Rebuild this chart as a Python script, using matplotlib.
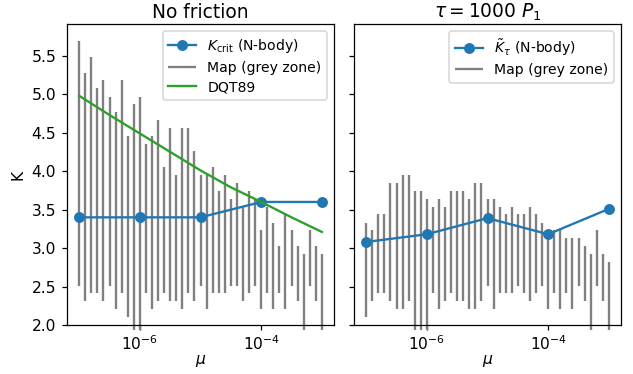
import numpy as np
import matplotlib
matplotlib.use("Agg")
from matplotlib import pyplot as plt

# mass ratios of the N-body runs
mu_nbody = [1e-7, 1e-6, 1e-5, 1e-4, 1e-3]
k_crit = [3.40, 3.40, 3.40, 3.60, 3.60]
k_tau = [3.08, 3.18, 3.39, 3.18, 3.51]

# DQT89 curve
mu_dqt = [1e-7, 10**-6.5, 1e-6, 10**-5.5, 1e-5, 10**-4.5, 1e-4, 10**-3.5, 1e-3]
k_dqt = [4.98, 4.73, 4.49, 4.25, 4.01, 3.79, 3.60, 3.40, 3.21]

# map grid (log10 mu from -7 to -3, step 0.1)
log_mu_map = [-7.0, -6.9, -6.8, -6.7, -6.6, -6.5, -6.4, -6.3, -6.2, -6.1,
              -6.0, -5.9, -5.8, -5.7, -5.6, -5.5, -5.4, -5.3, -5.2, -5.1,
              -5.0, -4.9, -4.8, -4.7, -4.6, -4.5, -4.4, -4.3, -4.2, -4.1,
              -4.0, -3.9, -3.8, -3.7, -3.6, -3.5, -3.4, -3.3, -3.2, -3.1,
              -3.0]

# grey zone, no friction
grey_lo = [2.51, 2.31, 2.41, 2.41, 2.31, 2.51, 2.21, 2.41, 2.10, 1.94,
           1.94, 2.41, 2.21, 2.31, 2.41, 2.31, 2.31, 2.21, 2.41, 2.31,
           2.51, 2.21, 2.41, 2.41, 2.41, 2.51, 2.51, 2.31, 2.41, 2.51,
           2.21, 2.41, 2.21, 2.41, 2.21, 2.51, 2.31, 1.94, 2.51, 2.31,
           1.94]
grey_hi = [5.69, 5.28, 5.49, 5.08, 5.18, 4.97, 4.77, 5.18, 4.46, 4.87,
           4.97, 4.36, 4.46, 4.67, 4.05, 4.56, 3.95, 4.56, 4.56, 4.26,
           3.95, 3.95, 4.05, 3.74, 3.95, 3.64, 3.85, 3.54, 3.74, 3.64,
           3.23, 3.54, 3.33, 3.03, 3.44, 3.23, 3.03, 2.92, 3.23, 3.03,
           2.92]

# grey zone, tau = 1000 P1
grey_lo_tau = [2.10, 2.31, 2.41, 2.41, 2.31, 2.21, 2.21, 2.31, 1.94, 1.94,
               1.94, 2.41, 2.21, 2.31, 2.41, 2.31, 2.31, 2.21, 2.21, 2.31,
               2.51, 2.21, 2.41, 2.41, 2.41, 2.51, 2.41, 2.31, 2.41, 2.51,
               2.21, 2.41, 2.21, 2.41, 2.21, 2.51, 2.31, 1.94, 2.51, 2.31,
               1.94]
grey_hi_tau = [3.33, 3.23, 3.44, 3.44, 3.85, 3.85, 3.95, 3.95, 3.74, 3.74,
               3.64, 3.54, 3.64, 3.54, 3.74, 3.74, 3.74, 3.64, 3.85, 3.85,
               3.64, 3.64, 3.54, 3.44, 3.54, 3.44, 3.44, 3.54, 3.44, 3.33,
               3.23, 3.23, 3.23, 3.13, 3.13, 3.13, 3.03, 2.92, 3.23, 2.92,
               2.82]

mu_map = 10.0 ** np.array(log_mu_map)

fig, (ax1, ax2) = plt.subplots(1, 2, sharey=True, figsize=(633/112, 374/112), dpi=112)
plt.subplots_adjust(left=0.106, right=0.981, bottom=0.131, top=0.935, wspace=0.075)

ax1.plot(mu_nbody, k_crit, 'o-', color='C0', label=r'$K_{\rm crit}$ (N-body)', zorder=3)
ax1.vlines(mu_map, grey_lo, grey_hi, color='grey', label='Map (grey zone)', clip_on=False)
ax1.plot(mu_dqt, k_dqt, color='C2', label='DQT89', zorder=3)
ax1.set_xscale('log')
ax1.set_ylim(2.0, 5.91)
ax1.set_title('No friction', pad=4)
ax1.set_xlabel(r'$\mu$', labelpad=0)
ax1.set_ylabel('K')
ax1.legend(loc='upper right', fontsize=9, labelspacing=0.4)

ax2.plot(mu_nbody, k_tau, 'o-', color='C0', label=r'$\tilde{K}_\tau$ (N-body)', zorder=3)
ax2.vlines(mu_map, grey_lo_tau, grey_hi_tau, color='grey', label='Map (grey zone)', clip_on=False)
ax2.set_xscale('log')
ax2.set_title(r'$\tau = 1000\ P_1$', pad=4)
ax2.set_xlabel(r'$\mu$', labelpad=0)
ax2.legend(loc='upper right', fontsize=9, labelspacing=0.4)

for ax in (ax1, ax2):
    ax.set_xticks([1e-6, 1e-4])
    ax.xaxis.set_minor_locator(matplotlib.ticker.NullLocator())
    ax.tick_params(axis='x', pad=2.5)

plt.savefig('out.png', dpi=112)
